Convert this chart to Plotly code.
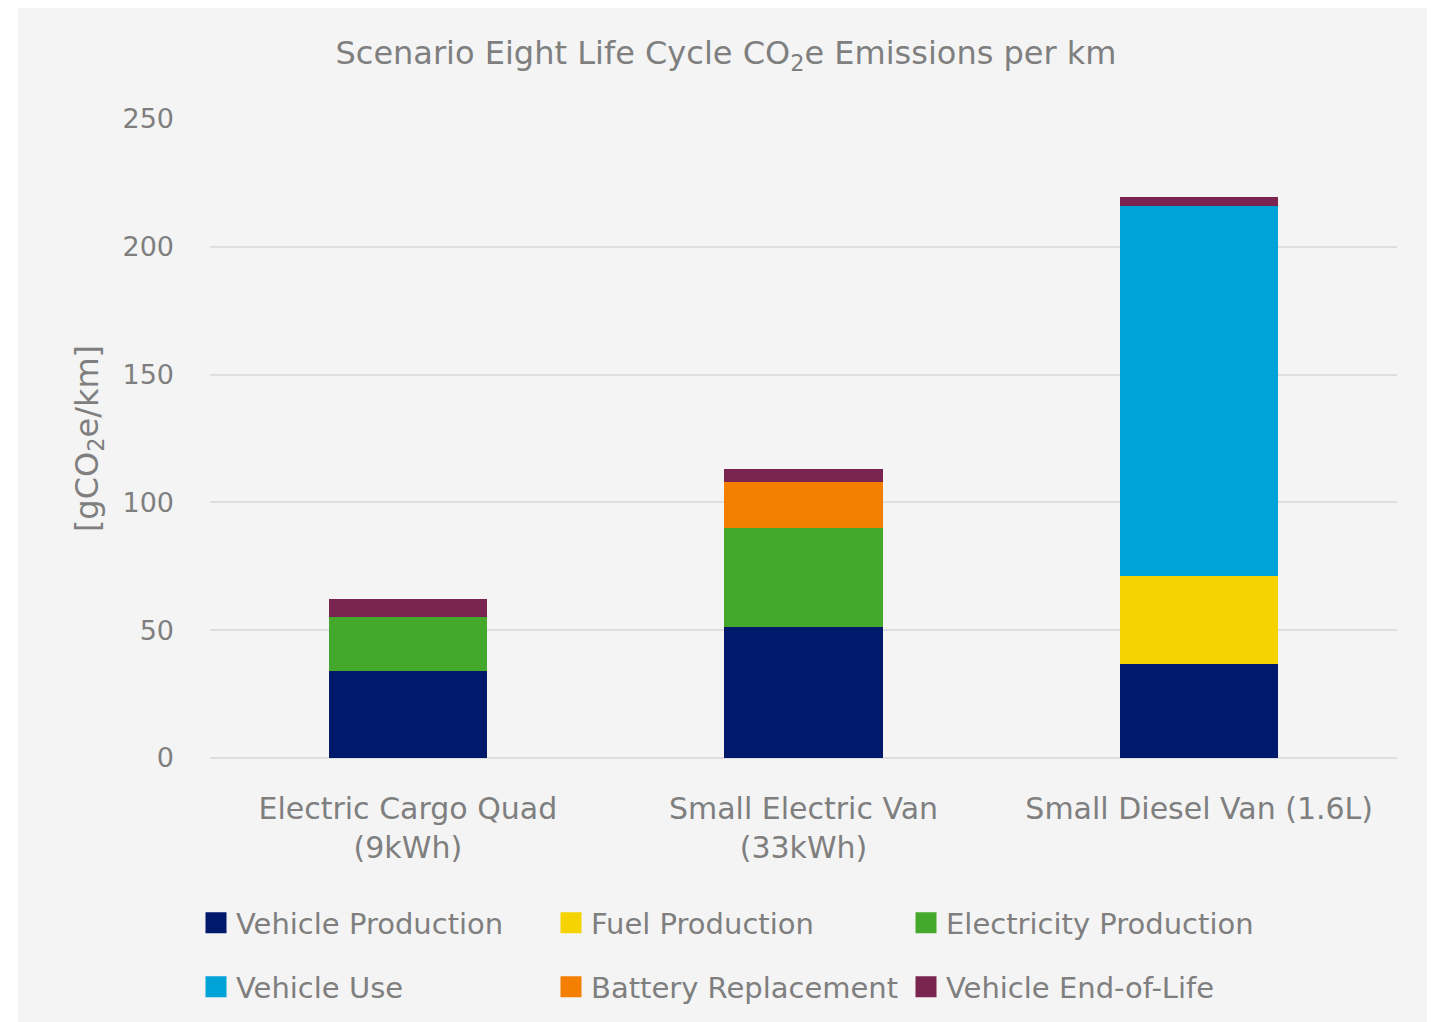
import plotly.graph_objects as go

categories = ["Electric Cargo Quad<br>(9kWh)", "Small Electric Van<br>(33kWh)", "Small Diesel Van (1.6L)"]
series_names = ["Vehicle Production", "Fuel Production", "Electricity Production",
                "Vehicle Use", "Battery Replacement", "Vehicle End-of-Life"]
vehicle_production = [34.0, 51.1, 36.7]
fuel_production = [0, 0, 34.5]
electricity_production = [21.3, 39.0, 0]
vehicle_use = [0, 0, 144.8]
battery_replacement = [0, 18.0, 0]
vehicle_end_of_life = [6.9, 5.0, 3.5]
y_ticks = [0, 50, 100, 150, 200, 250]

colors = ["#00196A", "#F5D300", "#43A82B", "#00A3D7", "#F47F00", "#7A2550"]
values = [vehicle_production, fuel_production, electricity_production,
          vehicle_use, battery_replacement, vehicle_end_of_life]

FONT = "DejaVu Sans"
GRAY = "#7F7F7F"

# the page body adds an 8 px offset; work in page pixels and convert
OFF = 8
W, H = 1435 - OFF, 1022 - OFF
L, R, T, B = 210 - OFF, W - (1397 - OFF), 119 - OFF, H - (758 - OFF)
pw, ph = W - L - R, H - T - B

def px2x(px):
    return (px - OFF - L) / pw

def py2y(py):
    return (H - B - (py - OFF)) / ph

fig = go.Figure()
for name, vals, col in zip(series_names, values, colors):
    fig.add_trace(go.Bar(x=categories, y=vals, name=name, marker_color=col,
                         marker_line_width=0, showlegend=False))

# legend entries (two rows as two legends)
for i, (name, col) in enumerate(zip(series_names, colors)):
    fig.add_trace(go.Scatter(x=[None], y=[None], mode="markers", name=name,
                             marker=dict(symbol="square", size=16, color=col,
                                         line=dict(color=col, width=5)),
                             legend="legend" if i < 3 else "legend2"))

fig.add_shape(type="rect", xref="paper", yref="paper",
              x0=px2x(18), x1=px2x(1430), y0=py2y(1022), y1=py2y(3),
              fillcolor="#F4F4F4", line_width=0, layer="below")

leg_common = dict(orientation="h", xanchor="left", yanchor="middle",
                  entrywidth=310, entrywidthmode="pixels", traceorder="normal",
                  font=dict(size=29, color=GRAY, family=FONT),
                  bgcolor="rgba(0,0,0,0)", borderwidth=0)

fig.update_layout(
    width=W, height=H,
    margin=dict(l=L, r=R, t=T, b=B, autoexpand=False),
    barmode="stack", bargap=0.6,
    paper_bgcolor="white", plot_bgcolor="rgba(0,0,0,0)",
    font=dict(family=FONT, color=GRAY, size=29),
    title=dict(text="Scenario Eight Life Cycle CO<sub>2</sub>e Emissions per km",
               x=px2x(726), xref="paper", xanchor="center",
               y=1 - (53 - OFF) / H, yanchor="middle", font=dict(size=32, color=GRAY)),
    legend=dict(x=px2x(196), y=py2y(923), **leg_common),
    legend2=dict(x=px2x(196), y=py2y(987), **leg_common),
    xaxis=dict(showgrid=False, showline=False, ticks="", ticklabelstandoff=30,
               tickfont=dict(size=30, color=GRAY)),
    yaxis=dict(range=[0, 250], tickvals=y_ticks, gridcolor="#DEDEDE", gridwidth=1.5,
               zeroline=True, zerolinecolor="#DEDEDE", zerolinewidth=1.5,
               showline=False, ticks="", ticklabelstandoff=35,
               tickfont=dict(size=27, color=GRAY),
               title=dict(text="[gCO<sub>2</sub>e/km]", font=dict(size=32, color=GRAY), standoff=14)),
)

fig.write_html("out.html")
